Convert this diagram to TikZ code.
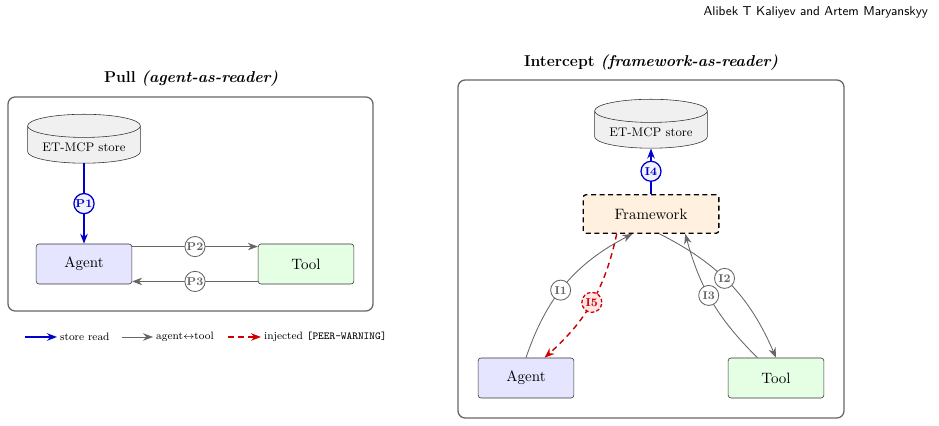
\documentclass[tikz,border=0pt]{standalone}
\usepackage{tikz}
\usetikzlibrary{positioning,arrows.meta,shapes.geometric}
\definecolor{readblue}{HTML}{0000CC}
\definecolor{linkgray}{HTML}{666666}
\definecolor{injred}{HTML}{CC0000}

\tikzset{
  panel/.style={draw=black!60, line width=0.9pt, rounded corners=5pt},
  box/.style={draw=black!80, rounded corners=2pt, minimum width=67pt, minimum height=28pt,
    font=\fontsize{10.5}{12}\selectfont},
  store/.style={cylinder, shape border rotate=90, aspect=0.25, draw=black!80, fill=gray!12,
    minimum width=79pt, minimum height=29pt, font=\fontsize{8.7}{10}\selectfont},
  tag/.style={circle, draw=linkgray, fill=white, inner sep=0.5pt, minimum size=14pt, font=\footnotesize\bfseries},
  readtag/.style={tag, draw=readblue, line width=0.9pt, fill=blue!5},
  injtag/.style={tag, draw=injred, dash pattern=on 2.5pt off 1.5pt, line width=0.9pt, fill=red!10},
  readarr/.style={-{Stealth[length=7pt]}, readblue, line width=1pt},
  linkarr/.style={-{Stealth[length=7pt]}, linkgray, semithick},
  injarr/.style={-{Stealth[length=7pt]}, injred, line width=1pt, dash pattern=on 4pt off 3pt},
  legtext/.style={font=\fontsize{7.5}{9}\selectfont, inner sep=2pt, anchor=west}
}

\begin{document}
\begin{tikzpicture}[x=0.7pt, y=-0.7pt]
  \useasboundingbox (0,0) rectangle (939,426);

  % Running header
  \node[anchor=east, font=\sffamily\small] (hdr) at (933,12) {Alibek T Kaliyev and Artem Maryanskyy};

  % Pull panel
  \node[font=\fontsize{11}{13}\selectfont] (pullT) at (191,79) {\textbf{Pull \textit{(agent-as-reader)}}};
  \draw[panel] (8,97) rectangle (373,311);
  \node[store] (pStore) at (84,147) {ET-MCP store};
  \node[box, fill=blue!10] (pAgent) at (84,264) {Agent};
  \node[box, fill=green!10] (pTool) at (306,264) {Tool};
  \draw[readarr] (pStore) -- node[readtag] {P1} (pAgent);
  \draw[linkarr] ([yshift=-2pt]pAgent.north east) -- node[tag] {P2} ([yshift=-2pt]pTool.north west);
  \draw[linkarr] ([yshift=2pt]pTool.south west) -- node[tag] {P3} ([yshift=2pt]pAgent.south east);

  % Legend
  \coordinate (lgA0) at (25,337);
  \node[legtext] (lgA) at (57,337) {store read};
  \draw[readarr] (lgA0) -- (lgA.west);
  \coordinate (lgB0) at (122,337);
  \node[legtext] (lgB) at (153,337) {agent$\leftrightarrow$tool};
  \draw[linkarr] (lgB0) -- (lgB.west);
  \coordinate (lgC0) at (228,337);
  \node[legtext] (lgC) at (261,337) {injected \texttt{[PEER-WARNING]}};
  \draw[injarr] (lgC0) -- (lgC.west);

  % Intercept panel
  \node[font=\fontsize{11}{13}\selectfont] (intT) at (651,63) {\textbf{Intercept \textit{(framework-as-reader)}}};
  \draw[panel] (458,80) rectangle (844,418);
  \node[store] (iStore) at (651,132) {ET-MCP store};
  \node[box, fill=orange!12, draw=black, line width=0.9pt, dash pattern=on 3.5pt off 2.5pt,
    minimum width=95pt, minimum height=27pt] (fwk) at (651,214) {Framework};
  \node[box, fill=blue!10] (iAgent) at (526,378) {Agent};
  \node[box, fill=green!10] (iTool) at (776,378) {Tool};
  \draw[readarr] (fwk) -- node[readtag] {I4} (iStore);
  \draw[linkarr] (iAgent.north) to[bend left=22] node[tag, pos=0.45] {I1} ([xshift=-13pt]fwk.south);
  \draw[linkarr] ([xshift=6pt]fwk.south) to[bend left=20] node[tag, pos=0.45] {I2} (iTool.north);
  \draw[linkarr] ([xshift=-13pt]iTool.north) to[bend left=15] node[tag, pos=0.55] {I3} ([xshift=24pt]fwk.south);
  \draw[injarr] ([xshift=-24pt]fwk.south) to[bend left=18] node[injtag, pos=0.5] {I5} ([xshift=13pt]iAgent.north);
\end{tikzpicture}
\end{document}
